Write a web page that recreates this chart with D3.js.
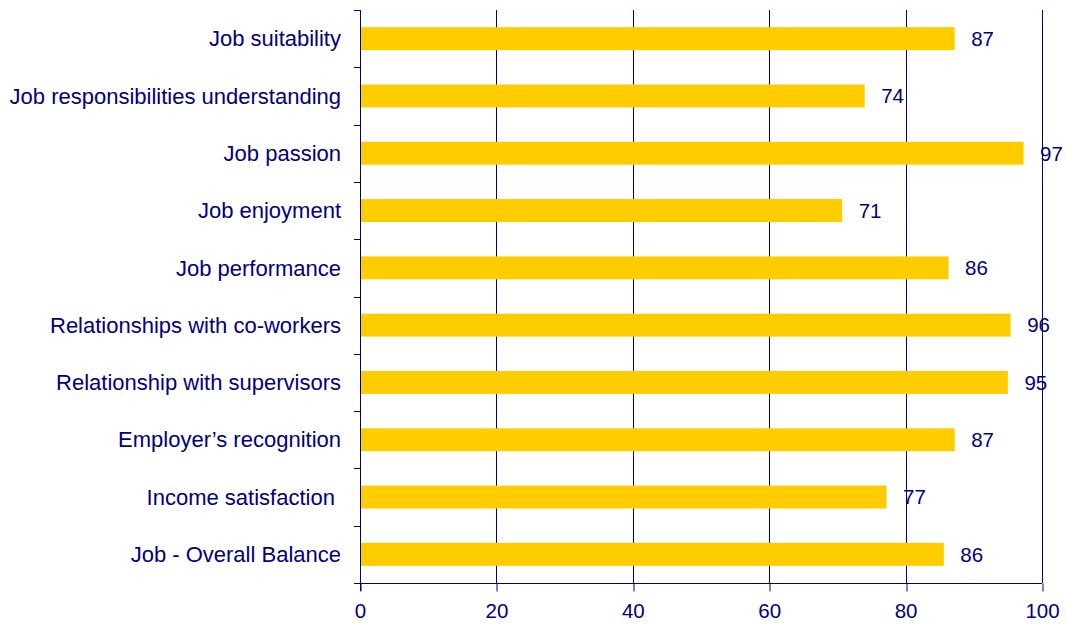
<!DOCTYPE html>
<html>
<head>
<meta charset="utf-8">
<script src="https://cdn.jsdelivr.net/npm/d3@7"></script>
<style>
  html, body { margin: 0; padding: 0; background: #fff; }
  svg { display: block; }
  text { font-family: "Liberation Sans", Arial, sans-serif; fill: #000080; white-space: pre; }
</style>
</head>
<body>
<svg id="chart" width="1066" height="624"></svg>
<script>
const categories = [
  "Job suitability",
  "Job responsibilities understanding",
  "Job passion",
  "Job enjoyment",
  "Job performance",
  "Relationships with co-workers",
  "Relationship with supervisors",
  "Employer\u2019s recognition",
  "Income satisfaction ",
  "Job - Overall Balance"
];
const values = [87.2, 74.0, 97.3, 70.7, 86.3, 95.4, 95.0, 87.2, 77.2, 85.6];
const valueLabels = ["87", "74", "97", "71", "86", "96", "95", "87", "77", "86"];
const xTicks = [0, 20, 40, 60, 80, 100];

const navy = "#000080";
const barColor = "#FFCC00";

const svg = d3.select("#chart");
const x = d3.scaleLinear().domain([0, 100]).range([360, 1042]);
const y = d3.scaleBand().domain(categories).range([10, 583]).paddingInner(0.6).paddingOuter(0.3);
const [yTop, yBottom] = y.range();

// gridlines (behind bars)
svg.append("g").selectAll("line").data(xTicks.filter(t => t > 0)).join("line")
  .attr("x1", d => Math.round(x(d)) + 0.5).attr("x2", d => Math.round(x(d)) + 0.5)
  .attr("y1", yTop).attr("y2", yBottom)
  .attr("stroke", navy).attr("stroke-width", 1);

// bars
svg.append("g").selectAll("rect").data(categories).join("rect")
  .attr("x", x(0))
  .attr("y", d => y(d))
  .attr("width", (d, i) => x(values[i]) - x(0))
  .attr("height", y.bandwidth())
  .attr("fill", barColor);

// value labels
svg.append("g").selectAll("text").data(categories).join("text")
  .attr("x", (d, i) => x(values[i]) + 16.5)
  .attr("y", d => y(d) + y.bandwidth() / 2 + 7.3)
  .attr("font-size", "20.5px")
  .text((d, i) => valueLabels[i]);

// bottom axis
const xAxis = d3.axisBottom(x).tickValues(xTicks).tickSize(8).tickPadding(12).tickFormat(d3.format("d"));
const gx = svg.append("g").attr("transform", `translate(0,${Math.round(yBottom) + 0.5})`).call(xAxis);
gx.select(".domain").attr("stroke", navy).attr("d", `M${x(0)},0H${x(100)}`);
gx.selectAll(".tick line").attr("stroke", navy).attr("transform", d => `translate(${Math.round(x(d)) + 0.5 - x(d)},0)`);
gx.selectAll(".tick text").attr("font-size", "20.5px").attr("font-family", "Liberation Sans, Arial, sans-serif").attr("fill", navy).attr("dy", "0.71em").attr("y", 20);

// left axis line
svg.append("line")
  .attr("x1", Math.round(x(0)) + 0.5).attr("x2", Math.round(x(0)) + 0.5)
  .attr("y1", yTop).attr("y2", yBottom + 8)
  .attr("stroke", navy);

// category boundary ticks
const boundaries = d3.range(categories.length + 1).map(i => yTop + i * y.step());
svg.append("g").selectAll("line").data(boundaries).join("line")
  .attr("x1", x(0) - 6).attr("x2", x(0))
  .attr("y1", d => Math.round(d) + 0.5).attr("y2", d => Math.round(d) + 0.5)
  .attr("stroke", navy);

// category labels
svg.append("g").selectAll("text").data(categories).join("text")
  .attr("x", x(0) - 19)
  .attr("y", d => y(d) + y.bandwidth() / 2 + 7.7)
  .attr("text-anchor", "end")
  .attr("font-size", "22px")
  .text(d => d);
</script>
</body>
</html>
